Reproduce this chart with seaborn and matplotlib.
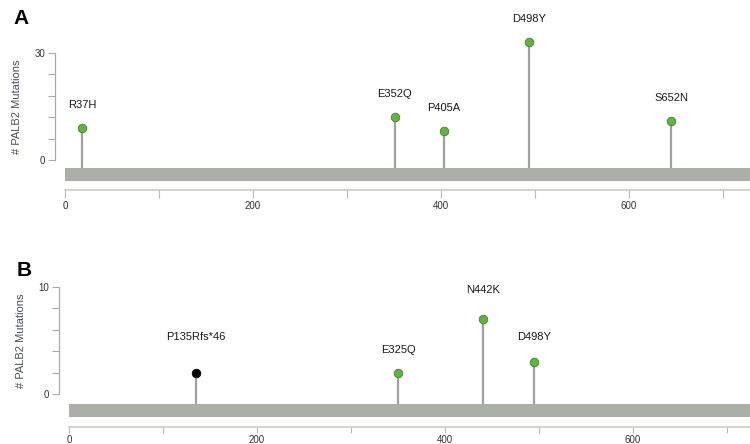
import pandas as pd
import seaborn as sns
import matplotlib.pyplot as plt

# Panel A mutations
a_labels = ['R37H', 'E352Q', 'P405A', 'D498Y', 'S652N']
a_pos = [18, 351, 403, 494, 645]
a_count = [9, 12, 8, 33, 11]
a_type = ['missense', 'missense', 'missense', 'missense', 'missense']

# Panel B mutations
b_labels = ['P135Rfs*46', 'E325Q', 'N442K', 'D498Y']
b_pos = [135, 350, 440, 495]
b_count = [2, 2, 7, 3]
b_type = ['truncating', 'missense', 'missense', 'missense']

protein_length = 1186
x_ticks = [0, 100, 200, 300, 400, 500, 600, 700]
x_ticklabels = ['0', '', '200', '', '400', '', '600', '']

sns.set_style('ticks')
plt.rcParams['font.family'] = ['Liberation Sans', 'DejaVu Sans']

palette = {'missense': '#66b04a', 'truncating': '#000000'}
edges = {'missense': '#3f8526', 'truncating': '#000000'}

fig = plt.figure(figsize=(7.5, 4.44), dpi=100)


def draw_panel(rect, df, ymax, yticks, ylim, xlim, bar_y, label_lift, letter, letter_xy, xtick_len):
    ax = fig.add_axes(rect)
    # protein backbone
    ax.barh(y=bar_y[0], width=protein_length, height=bar_y[1], left=0,
            color='#aab0a8', edgecolor='none', zorder=1)
    # stems from the backbone up to the count
    ax.vlines(df['pos'], bar_y[0] + bar_y[1] / 2, df['count'], color='#a0a0a0', lw=1.6, zorder=2)
    for t, sub in df.groupby('type'):
        sns.scatterplot(data=sub, x='pos', y='count', ax=ax, s=38, color=palette[t],
                        edgecolor=edges[t], linewidth=0.6, zorder=3, legend=False)
    for (_, r), lift in zip(df.iterrows(), label_lift):
        ax.annotate(r['label'], (r['pos'], r['count']), xytext=(0, lift),
                    textcoords='offset pixels', ha='center', va='center',
                    fontsize=8, color='#1a1a1a')

    ax.set_xlim(*xlim)
    ax.set_ylim(*ylim)
    ax.set_yticks(yticks)
    ax.set_yticklabels(['0'] + [''] * (len(yticks) - 2) + [str(ymax)])
    ax.set_xticks(x_ticks)
    ax.set_xticklabels(x_ticklabels)
    for s in ['top', 'right']:
        ax.spines[s].set_visible(False)
    ax.spines['left'].set_bounds(0, ymax)
    ax.spines['left'].set_color('#aaaaaa')
    ax.spines['left'].set_linewidth(0.9)
    ax.spines['bottom'].set_bounds(0, xlim[1])
    ax.spines['bottom'].set_color('#cccccc')
    ax.spines['bottom'].set_linewidth(1.2)
    ax.tick_params(axis='y', length=5, width=0.8, color='#aaaaaa', labelsize=7, labelcolor='#333333', pad=2)
    ax.tick_params(axis='x', length=xtick_len, width=0.8, color='#bbbbbb', labelsize=7, labelcolor='#333333',
                   direction='out', pad=2)
    ax.set_xlabel('')
    ax.set_ylabel('# PALB2 Mutations', fontsize=8, color='#4a4f5a')
    ax.yaxis.set_label_coords(-0.048, (0 - ylim[0] + ymax / 2) / (ylim[1] - ylim[0]))
    ax.patch.set_alpha(0)
    fig.text(letter_xy[0], letter_xy[1], letter, fontsize=15, fontweight='bold',
             color='black', ha='left', va='center')
    return ax


df_a = pd.DataFrame({'label': a_labels, 'pos': a_pos, 'count': a_count, 'type': a_type})
df_b = pd.DataFrame({'label': b_labels, 'pos': b_pos, 'count': b_count, 'type': b_type})

draw_panel([55 / 750, (444 - 190) / 444, 695 / 750, 180 / 444], df_a, 30,
           [0, 6, 12, 18, 24, 30], (-8.4, 42), (-10.6, 729), (-4.05, 3.7),
           [23, 23, 23, 23, 23], 'A', (13 / 750, 1 - 18 / 444), 6)

draw_panel([59 / 750, (444 - 427) / 444, 691 / 750, 187 / 444], df_b, 10,
           [0, 2, 4, 6, 8, 10], (-3.08, 14.4), (-10.6, 724.5), (-1.54, 1.22),
           [36, 23, 29, 25], 'B', (17 / 750, 1 - 271 / 444), 4)

fig.savefig('out.png', dpi=100)
